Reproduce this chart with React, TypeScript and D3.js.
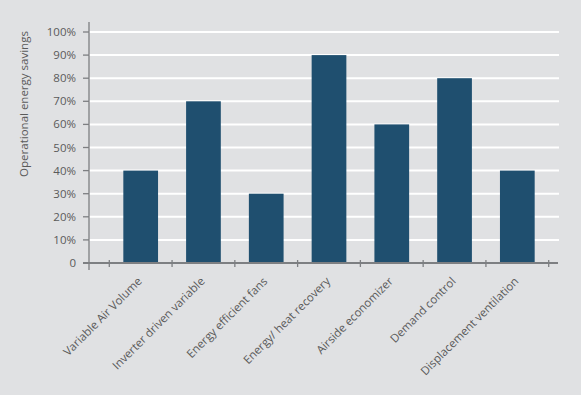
import React from "react";
import * as d3 from "d3";

const categories = [
  "Variable Air Volume",
  "Inverter driven variable",
  "Energy efficient fans",
  "Energy/ heat recovery",
  "Airside economizer",
  "Demand control",
  "Displacement ventilation",
];
const savings = [40, 70, 30, 90, 60, 80, 40];
const yTicks = [0, 10, 20, 30, 40, 50, 60, 70, 80, 90, 100];
const yTitle = "Operational energy savings";

const W = 581;
const H = 395;
const axisX = 89;
const axisEndX = 558;
const bandStart = 109.3;
const bandEnd = 548.7;
const FONT = "'Open Sans', sans-serif";
const TEXT = "#5a5a5a";
const AXIS = "#7d7f82";

export default function App() {
  const x = d3.scaleBand<string>().domain(categories).range([bandStart, bandEnd]).paddingInner(0).paddingOuter(0);
  const y = d3.scaleLinear().domain([0, 100]).range([263, 32]);
  const bw = x.bandwidth() * 0.553;
  const edges = [...categories.map((c) => x(c) as number), bandEnd];

  return (
    <svg
      width={W}
      height={H}
      style={{ position: "absolute", left: 0, top: 0, background: "#e0e1e3" }}
    >
      <rect x={0} y={0} width={W} height={H} fill="#e0e1e3" />
      {yTicks.filter((t) => t > 0).map((t) => (
        <line key={"g" + t} x1={axisX} x2={559} y1={y(t)} y2={y(t)} stroke="#ffffff" strokeWidth={2} />
      ))}
      {categories.map((c, i) => (
        <rect
          key={c}
          x={(x(c) as number) + (x.bandwidth() - bw) / 2}
          y={y(savings[i])}
          width={bw}
          height={y(0) - y(savings[i])}
          fill="#1f4f6f"
        />
      ))}
      {/* y axis */}
      <line x1={axisX} x2={axisX} y1={22} y2={270} stroke={AXIS} strokeWidth={1.3} />
      {yTicks.map((t) => (
        <g key={"y" + t}>
          <line x1={83} x2={axisX} y1={y(t)} y2={y(t)} stroke={AXIS} strokeWidth={1.3} />
          <text
            x={76}
            y={y(t)}
            dy="0.35em"
            textAnchor="end"
            fontFamily={FONT}
            fontSize={11.5}
            fill={TEXT}
          >
            {t === 0 ? "0" : t + "%"}
          </text>
        </g>
      ))}
      {/* x axis */}
      <line x1={83} x2={axisEndX} y1={y(0)} y2={y(0)} stroke={AXIS} strokeWidth={2} />
      {edges.map((e, i) => (
        <line key={"xt" + i} x1={e} x2={e} y1={y(0) - 3} y2={y(0) + 4} stroke={AXIS} strokeWidth={1.3} />
      ))}
      {categories.map((c) => {
        const cx = (x(c) as number) + x.bandwidth() / 2 + 2;
        const cy = 282;
        return (
          <text
            key={"xl" + c}
            x={cx}
            y={cy}
            textAnchor="end"
            transform={`rotate(-45, ${cx}, ${cy})`}
            fontFamily={FONT}
            fontSize={11.5}
            fill={TEXT}
          >
            {c}
          </text>
        );
      })}
      <text
        transform={`translate(28, 104) rotate(-90)`}
        textAnchor="middle"
        fontFamily={FONT}
        fontSize={11.5}
        fill={TEXT}
      >
        {yTitle}
      </text>
    </svg>
  );
}
